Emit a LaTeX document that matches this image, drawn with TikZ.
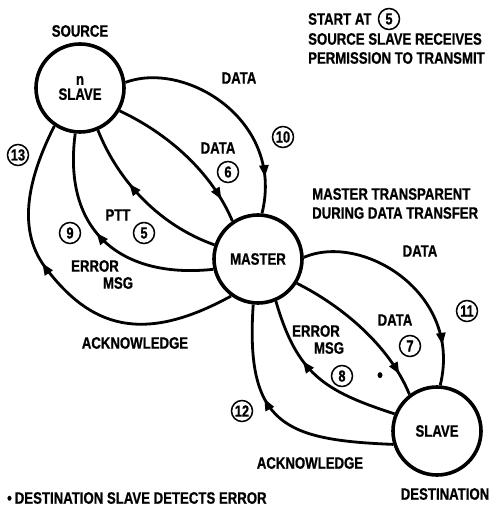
\documentclass[tikz,border=0pt]{standalone}
\usepackage{fontspec}
\setmainfont{Liberation Sans}[FakeStretch=0.8,BoldFeatures={FakeBold=0.8}]
\usetikzlibrary{arrows.meta,decorations.markings}
\begin{document}
\begin{tikzpicture}[x=1pt,y=-1pt,
  lbl/.style={font=\fontsize{16.5}{15}\selectfont\bfseries, inner sep=0pt},
  bigc/.style={circle, draw, line width=3.6pt, minimum size=88pt, inner sep=0pt, align=center, font=\fontsize{16.5}{15}\selectfont\bfseries},
  num/.style={circle, draw, line width=1.5pt, minimum size=21pt, inner sep=0pt, font=\fontsize{16}{16}\selectfont\bfseries},
  link/.style={line width=2.8pt},
  arr/.style={postaction={decorate}, decoration={markings, mark=at position #1 with {\arrow{Triangle[length=12pt,width=9pt]}}}}
]
\useasboundingbox (0,0) rectangle (490,510);

% main nodes
\node[bigc] (S) at (80,88) {n\\SLAVE};
\node[bigc] (M) at (258,259) {MASTER};
\node[bigc] (D) at (437,431) {SLAVE};

% source-master connectors
\draw[link, arr=0.84] (S.7) .. controls (185,60) and (285,120) .. (M.85);
\draw[link, arr=0.85] (S.330) .. controls (167,133) and (211.5,171.5) .. (M.124);
\draw[link, arr=0.63] (M.162) .. controls (161,226) and (119,183) .. (S.293);
\draw[link, arr=0.55] (M.193) .. controls (123,279) and (62,233) .. (S.264);
\coordinate (q13) at (45,267);
\draw[link, arr=0.60] (M.234) .. controls (142,345) and (90,327) .. (q13) .. controls (15,227) and (30.5,173) .. (S.236);

% master-destination connectors
\draw[link, arr=0.82] (M.2) .. controls (362,232) and (463,293) .. (D.86);
\draw[link, arr=0.86] (M.328) .. controls (342,306) and (389.5,345.5) .. (D.127);
\draw[link, arr=0.62] (D.158) .. controls (324,391) and (297,374) .. (M.293);
\draw[link, arr=0.60] (D.197) .. controls (285,440) and (245,425) .. (M.264);

% labels
\node[lbl] (lsrc) at (80,31) {SOURCE};
\node[lbl] (ldst) at (445,494) {DESTINATION};
\node[lbl, anchor=west] (n1) at (308,19) {START AT};
\node[num] (c5a) at (389,19) {5};
\node[lbl, anchor=west] (n2) at (308,39) {SOURCE SLAVE RECEIVES};
\node[lbl, anchor=west] (n3) at (308,58) {PERMISSION TO TRANSMIT};
\node[lbl, anchor=west] (n4) at (312,194) {MASTER TRANSPARENT};
\node[lbl, anchor=west] (n5) at (312,213) {DURING DATA TRANSFER};

\node[lbl] (d10) at (239,78) {DATA};
\node[num] (c10) at (283,137) {10};
\node[lbl] (d6) at (218,148) {DATA};
\node[num] (c6) at (228,172) {6};
\node[lbl] (ptt) at (118,215) {PTT};
\node[num] (c5) at (144,233) {5};
\node[num] (c9) at (70,233) {9};
\node[num] (c13) at (18,155) {13};
\node[lbl] (e9a) at (95,266) {ERROR};
\node[lbl] (e9b) at (118,283) {MSG};
\node[lbl] (ack13) at (135,343) {ACKNOWLEDGE};

\node[lbl] (d11) at (420,251) {DATA};
\node[num] (c11) at (467,311) {11};
\node[lbl] (d7) at (395,320) {DATA};
\node[num] (c7) at (410,346) {7};
\node[lbl] (e8a) at (316,331) {ERROR};
\node[lbl] (e8b) at (329,348) {MSG};
\node[num] (c8) at (342,376) {8};
\node[lbl, font=\fontsize{20}{20}\selectfont\bfseries] (star) at (380,377) {\textbullet};
\node[num] (c12) at (242,411) {12};
\node[lbl] (ack12) at (310,463) {ACKNOWLEDGE};

\node[lbl, anchor=west] (foot) at (7,498) {\textbullet\hspace{3pt}DESTINATION SLAVE DETECTS ERROR};
\end{tikzpicture}
\end{document}
